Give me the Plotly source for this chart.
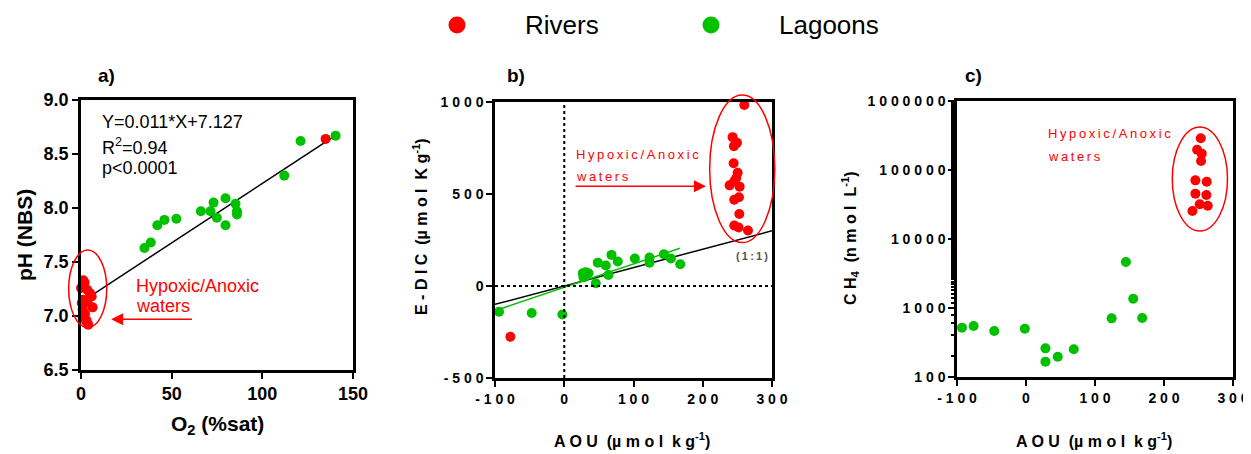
import math
import plotly.graph_objects as go

W, H = 1251, 454
OFF = 8  # the page body adds an 8px margin; the figure is sized/offset to compensate
FW, FH = W - OFF, H - OFF
FONT = "Liberation Sans, Arial, sans-serif"
RED = "#FF0000"
GREEN = "#00C000"

# ---------------- data ----------------
# Panel a: O2 (%sat) vs pH (NBS)
a_riv_o2 = [1.3, 2.0, 0.0, 3.5, 5.0, 5.9, 1.3, 3.5, 0.4, 6.4, 0.9, 2.2, 0.9, 3.1, 4.0, 2.8, 134.9]
a_riv_ph = [7.33, 7.31, 7.26, 7.24, 7.21, 7.18, 7.15, 7.13, 7.12, 7.08, 7.06, 7.02, 6.99, 6.96, 6.92, 6.95, 8.64]
a_lag_o2 = [35.0, 38.5, 42.1, 46.0, 52.6, 66.1, 71.4, 73.1, 74.9, 79.7, 79.7, 85.2, 86.0, 86.0, 112.1, 121.1, 140.4]
a_lag_ph = [7.63, 7.68, 7.84, 7.89, 7.90, 7.97, 7.97, 8.05, 7.91, 8.09, 7.84, 8.04, 7.97, 7.94, 8.30, 8.62, 8.67]
a_fit_slope, a_fit_icpt = 0.011, 7.127
a_fit_x = [0, 140]

# Panel b: AOU vs E-DIC
b_riv_aou = [-77.8, 260.0, 243.1, 245.0, 249.4, 244.6, 250.4, 248.4, 245.5, 238.8, 253.3, 252.3, 245.5, 252.8, 245.5, 251.8, 265.3]
b_riv_edic = [-276, 984, 809, 760, 778, 667, 615, 587, 569, 547, 540, 482, 469, 391, 329, 318, 302]
b_lag_aou = [-94.2, -47.0, -2.7, 26.7, 27.7, 31.0, 35.0, 45.5, 48.4, 60.0, 63.9, 68.2, 77.3, 101.9, 123.1, 123.1, 143.9, 154.0, 167.5]
b_lag_edic = [-140, -147, -155, 69, 47, 75, 69, 15, 127, 111, 60, 169, 133, 149, 155, 127, 173, 149, 118]
b_one_x = [-100, 300]
b_lag_fit_slope, b_lag_fit_icpt = 1.27, -7.0
b_lag_fit_x = [-97, 167]

# Panel c: AOU vs CH4 (log)
c_riv_aou = [253.3, 248.0, 254.7, 253.7, 245.5, 261.9, 245.5, 261.4, 251.8, 263.4, 241.2]
c_riv_ch4 = [287700, 197000, 172600, 134900, 70800, 67700, 45400, 43400, 31800, 30400, 25500]
c_lag_aou = [-92.8, -75.9, -46.0, -1.7, 28.2, 28.2, 46.0, 69.2, 124.1, 144.8, 155.4, 168.4]
c_lag_ch4 = [519, 548, 464, 501, 260, 167, 197, 252, 708, 4645, 1365, 716]

a_xticks = [0, 50, 100, 150]
a_yticks = [6.5, 7.0, 7.5, 8.0, 8.5, 9.0]
bc_xticks = [-100, 0, 100, 200, 300]
b_yticks = [-500, 0, 500, 1000]
c_yticks = [100, 1000, 10000, 100000, 1000000]


def spaced(s, sep=" "):
    return sep.join(list(s))


# ---------------- layout helpers ----------------
def px_x(p):
    return (p - OFF) / FW


def px_y(p):
    return 1 - (p - OFF) / FH


DOM = {
    "a": dict(x=[px_x(81), px_x(353)], y=[px_y(370), px_y(100)]),
    "b": dict(x=[px_x(495), px_x(772)], y=[px_y(378), px_y(102)]),
    "c": dict(x=[px_x(957), px_x(1233)], y=[px_y(377), px_y(101)]),
}

fig = go.Figure()

mk = dict(size=10, line=dict(width=0))

# Panel a
fig.add_trace(go.Scatter(x=a_fit_x, y=[a_fit_slope * v + a_fit_icpt for v in a_fit_x], mode="lines",
                         line=dict(color="black", width=1.5), xaxis="x", yaxis="y", showlegend=False))
fig.add_trace(go.Scatter(x=a_lag_o2, y=a_lag_ph, mode="markers", marker=dict(color=GREEN, **mk),
                         xaxis="x", yaxis="y", showlegend=False, cliponaxis=False))
fig.add_trace(go.Scatter(x=a_riv_o2, y=a_riv_ph, mode="markers", marker=dict(color=RED, **mk),
                         xaxis="x", yaxis="y", showlegend=False, cliponaxis=False))

# Panel b
fig.add_trace(go.Scatter(x=b_one_x, y=b_one_x, mode="lines", line=dict(color="black", width=1.5),
                         xaxis="x2", yaxis="y2", showlegend=False))
fig.add_trace(go.Scatter(x=b_lag_fit_x, y=[b_lag_fit_slope * v + b_lag_fit_icpt for v in b_lag_fit_x],
                         mode="lines", line=dict(color=GREEN, width=1.5), xaxis="x2", yaxis="y2", showlegend=False))
fig.add_trace(go.Scatter(x=b_lag_aou, y=b_lag_edic, mode="markers", marker=dict(color=GREEN, **mk),
                         xaxis="x2", yaxis="y2", showlegend=False, cliponaxis=False))
fig.add_trace(go.Scatter(x=b_riv_aou, y=b_riv_edic, mode="markers", marker=dict(color=RED, **mk),
                         xaxis="x2", yaxis="y2", showlegend=False, cliponaxis=False))

# Panel c
fig.add_trace(go.Scatter(x=c_lag_aou, y=c_lag_ch4, mode="markers", marker=dict(color=GREEN, **mk),
                         xaxis="x3", yaxis="y3", showlegend=False, cliponaxis=False))
fig.add_trace(go.Scatter(x=c_riv_aou, y=c_riv_ch4, mode="markers", marker=dict(color=RED, **mk),
                         xaxis="x3", yaxis="y3", showlegend=False, cliponaxis=False))

axcommon = dict(showline=True, linecolor="black", linewidth=2.5, mirror=True, ticks="outside",
                ticklen=6, tickwidth=2, tickcolor="black", showgrid=False, zeroline=False,
                automargin=False)
tf_a = dict(family=FONT, size=18, color="black", weight="bold")
tf_bc = dict(family=FONT, size=14, color="black", weight="bold")

fig.update_layout(
    width=FW, height=FH, autosize=False,
    margin=dict(l=0, r=0, t=0, b=0, pad=0, autoexpand=False),
    showlegend=False,
    paper_bgcolor="white", plot_bgcolor="white",
    font=dict(family=FONT, color="black"),
    xaxis=dict(domain=DOM["a"]["x"], range=[0, 150], tickvals=a_xticks, anchor="y", tickfont=tf_a, **axcommon),
    yaxis=dict(domain=DOM["a"]["y"], range=[6.5, 9.0], tickvals=a_yticks,
               ticktext=[f"{v:.1f}" for v in a_yticks], anchor="x", tickfont=tf_a, **axcommon),
    xaxis2=dict(domain=DOM["b"]["x"], range=[-100, 300], tickvals=bc_xticks,
                ticktext=[spaced(str(v)) for v in bc_xticks], anchor="y2", tickfont=tf_bc, **axcommon),
    yaxis2=dict(domain=DOM["b"]["y"], range=[-500, 1000], tickvals=b_yticks,
                ticktext=[spaced(str(v)) for v in b_yticks], anchor="x2", tickfont=tf_bc, **axcommon),
    xaxis3=dict(domain=DOM["c"]["x"], range=[-100, 300], tickvals=bc_xticks,
                ticktext=[spaced(str(v)) for v in bc_xticks], anchor="y3", tickfont=tf_bc, **axcommon),
    yaxis3=dict(domain=DOM["c"]["y"], type="log", range=[2, 6], tickvals=c_yticks,
                ticktext=[spaced(str(v)) for v in c_yticks], anchor="x3", tickfont=tf_bc,
                minor=dict(ticks="outside", ticklen=3, tickwidth=1.5, tickcolor="black", showgrid=False),
                **axcommon),
)

# dotted zero lines (panel b)
fig.add_shape(type="line", xref="x2", yref="y2 domain", x0=0, x1=0, y0=0, y1=1,
              line=dict(color="black", width=2, dash="dot"))
fig.add_shape(type="line", xref="x2 domain", yref="y2", x0=0, x1=1, y0=0, y1=0,
              line=dict(color="black", width=2, dash="dot"))


def d2p(panel, x, y, log=False, rx=None, ry=None):
    dx, dy = DOM[panel]["x"], DOM[panel]["y"]
    fx = (x - rx[0]) / (rx[1] - rx[0])
    if log:
        fy = (math.log10(y) - ry[0]) / (ry[1] - ry[0])
    else:
        fy = (y - ry[0]) / (ry[1] - ry[0])
    return dx[0] + fx * (dx[1] - dx[0]), dy[0] + fy * (dy[1] - dy[0])


def ellipse(panel, xa, xb, ya, yb, log=False, rx=None, ry=None):
    x0, y0 = d2p(panel, xa, ya, log, rx, ry)
    x1, y1 = d2p(panel, xb, yb, log, rx, ry)
    fig.add_shape(type="circle", xref="paper", yref="paper", x0=x0, x1=x1, y0=y0, y1=y1,
                  line=dict(color=RED, width=1.5))


ellipse("a", -6.8, 14.2, 6.892, 7.611, rx=[0, 150], ry=[6.5, 9.0])
ellipse("b", 210, 304, 236, 1038, rx=[-100, 300], ry=[-500, 1000])
ellipse("c", 212, 292, 10 ** 4.116, 10 ** 5.623, log=True, rx=[-100, 300], ry=[2, 6])


def ann(text, x, y, size, color="black", bold=False, xanchor="center", angle=0, yanchor="middle"):
    fig.add_annotation(text=text, x=px_x(x), y=px_y(y), xref="paper", yref="paper", showarrow=False,
                       xanchor=xanchor, yanchor=yanchor, textangle=angle,
                       font=dict(family=FONT, size=size, color=color, weight="bold" if bold else "normal"))


def arrow(xref, yref, x_tail, x_head, y):
    fig.add_annotation(text="", x=x_head, y=y, ax=x_tail, ay=y, xref=xref, yref=yref, axref=xref, ayref=yref,
                       showarrow=True, arrowhead=2, arrowsize=1.6, arrowwidth=1.5, arrowcolor=RED)


# panel letters
ann("a)", 106, 75, 19, bold=True)
ann("b)", 516, 75, 19, bold=True)
ann("c)", 973, 75, 19, bold=True)

# panel a texts
ann("Y=0.011*X+7.127", 100, 122, 18, xanchor="left")
ann("R<sup>2</sup>=0.94", 100, 146, 18, xanchor="left")
ann("p<0.0001", 100, 168, 18, xanchor="left")
ann("Hypoxic/Anoxic", 134, 286, 18, color=RED, xanchor="left")
ann("waters", 134, 306, 18, color=RED, xanchor="left")
arrow("x", "y", 62, 16.6, 6.969)
ann("pH (NBS)", 24, 235, 21, bold=True, angle=-90)
ann("O<sub>2</sub> (%sat)", 217, 425, 21, bold=True)

# panel b texts
TS = "\u2009"
ann(spaced("Hypoxic/Anoxic", TS), 574, 155, 13, color=RED, xanchor="left")
ann(spaced("waters", TS), 574, 176, 13, color=RED, xanchor="left")
arrow("x2", "y2", 14.2, 204.6, 542)
ann(spaced("(1:1)", TS), 752, 256, 11, color="#555555", bold=True)
ann("E - D I C  (µ m o l  K g<sup>-1</sup>)", 420, 227, 16, bold=True, angle=-90)
ann("A O U  (µ m o l  k g<sup>-1</sup>)", 632, 440, 16, bold=True)

# panel c texts
ann(spaced("Hypoxic/Anoxic", TS), 1046, 134, 13, color=RED, xanchor="left")
ann(spaced("waters", TS), 1046, 157, 13, color=RED, xanchor="left")
arrow("x3", "y3", 31.1, 197.8, 113000)
ann("C H<sub>4</sub>  (n m o l  L<sup>-1</sup>)", 850, 238, 16, bold=True, angle=-90)
ann("A O U  (µ m o l  k g<sup>-1</sup>)", 1094, 440, 16, bold=True)

# legend (manual)
for cx, col, label in [(457, RED, "Rivers"), (711, GREEN, "Lagoons")]:
    fig.add_shape(type="circle", xref="paper", yref="paper", x0=px_x(cx - 8.5), x1=px_x(cx + 8.5),
                  y0=px_y(33.5), y1=px_y(16.5), fillcolor=col, line=dict(width=0))
    ann(label, cx + 66, 25, 26, xanchor="left")

fig.write_html("out.html")
